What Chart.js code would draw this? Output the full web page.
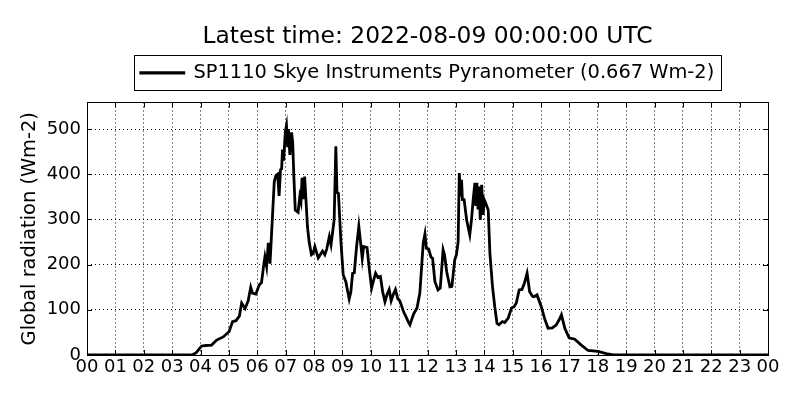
<!DOCTYPE html>
<html>
<head>
<meta charset="utf-8">
<script src="https://cdn.jsdelivr.net/npm/chart.js@4/dist/chart.umd.min.js"></script>
<style>
  html, body { margin: 0; padding: 0; background: #fff; }
  #wrap { width: 800px; height: 400px; }
</style>
</head>
<body>
<div id="wrap"><canvas id="c" width="800" height="400"></canvas></div>
<script>
const titleText = 'Latest time: 2022-08-09 00:00:00 UTC';
const seriesLabel = 'SP1110 Skye Instruments Pyranometer (0.667 Wm-2)';
const yAxisTitle = 'Global radiation (Wm-2)';
const yTickValues = [0, 100, 200, 300, 400, 500];
const xTickHours = [0,1,2,3,4,5,6,7,8,9,10,11,12,13,14,15,16,17,18,19,20,21,22,23,24];

const hours = [
  0, 3.7, 3.85, 4.04, 4.2, 4.39, 4.57, 4.8, 5.01, 5.13, 5.25, 5.37, 5.45, 5.57, 5.68, 5.77, 5.83, 5.95,
  6.07, 6.15, 6.23, 6.27, 6.33, 6.39, 6.45, 6.53, 6.60, 6.66, 6.72, 6.77, 6.82, 6.86, 6.89, 6.93, 6.99,
  7.03, 7.07, 7.10, 7.15, 7.21, 7.25, 7.29, 7.34, 7.44, 7.50, 7.54, 7.58, 7.62, 7.67, 7.72, 7.77, 7.83,
  7.91, 7.97, 8.03, 8.10, 8.15, 8.22, 8.30, 8.38, 8.45, 8.54, 8.60, 8.71, 8.77, 8.81, 8.86, 8.95,
  9.03, 9.12, 9.24, 9.30, 9.36, 9.42, 9.50, 9.58, 9.64, 9.70, 9.75, 9.87, 9.95,
  10.03, 10.10, 10.17, 10.25, 10.34, 10.42, 10.50, 10.58, 10.65, 10.72, 10.80, 10.87, 10.95,
  11.02, 11.08, 11.16, 11.24, 11.31, 11.38, 11.45, 11.52, 11.63, 11.73, 11.85, 11.91, 11.96,
  12.04, 12.12, 12.18, 12.26, 12.37, 12.45, 12.55, 12.60, 12.68, 12.79, 12.86, 12.96,
  13.02, 13.08, 13.12, 13.16, 13.20, 13.23, 13.29, 13.38, 13.49, 13.55, 13.61, 13.67, 13.70, 13.74,
  13.78, 13.82, 13.86, 13.91, 13.96, 14.00, 14.06, 14.14, 14.20, 14.29, 14.37, 14.45, 14.52, 14.64,
  14.72, 14.84, 14.96, 15.05, 15.13, 15.23, 15.33, 15.42, 15.51, 15.60, 15.70, 15.75, 15.86,
  16.01, 16.13, 16.25, 16.40, 16.54, 16.64, 16.72, 16.84, 16.99, 17.19, 17.42, 17.66, 18.01, 18.3, 18.55, 24
];
const radiation = [
  0, 0, 5, 20, 21, 22, 33, 40, 52, 74, 76, 86, 115, 103, 120, 150, 137, 135,
  155, 160, 200, 217, 196, 248, 202, 299, 384, 397, 400, 352, 410, 412, 455, 430, 495,
  508, 460, 500, 443, 493, 470, 395, 321, 316, 351, 340, 392, 345, 395, 340, 284, 250,
  222, 225, 240, 225, 215, 222, 230, 222, 235, 262, 244, 299, 462, 360, 358, 250,
  177, 163, 124, 140, 181, 182, 240, 285, 250, 214, 240, 238, 190,
  148, 165, 181, 172, 174, 140, 118, 135, 145, 120, 135, 145, 125,
  120, 110, 95, 85, 75, 67, 80, 92, 104, 137, 248, 268, 236,
  235, 217, 214, 163, 144, 148, 233, 222, 183, 151, 152, 211,
  222, 251, 403, 351, 388, 344, 344, 299, 266, 299, 344, 381, 330, 381,
  322, 373, 299, 377, 310, 344, 335, 321, 225, 152, 107, 70, 67, 74,
  72, 81, 104, 107, 115, 144, 145, 160, 181, 140, 130, 129, 133,
  107, 80, 59, 60, 67, 78, 89, 59, 38, 35, 22, 10, 8, 3, 0, 0
];

const points = hours.map((h, i) => ({ x: h, y: radiation[i] }));
const FONT = 'DejaVu Sans';

const framePlugin = {
  id: 'frame',
  beforeLayout(chart) {
    const lg = chart.legend;
    if (lg && !lg._extraGap) {
      lg._extraGap = true;
      const origFit = lg.fit;
      lg.fit = function () { origFit.call(this); this.height += 10; };
    }
  },
  afterDraw(chart) {
    const ctx = chart.ctx;
    const a = chart.chartArea;
    const xs = chart.scales.x, ys = chart.scales.y;
    ctx.save();
    ctx.strokeStyle = '#000';
    ctx.lineWidth = 1;
    ctx.setLineDash([]);
    ctx.strokeRect(Math.round(a.left) + 0.5, Math.round(a.top) + 0.5,
                   Math.round(a.right - a.left), Math.round(a.bottom - a.top));
    ctx.beginPath();
    yTickValues.forEach(v => {
      const y = Math.round(ys.getPixelForValue(v)) + 0.5;
      ctx.moveTo(a.left, y); ctx.lineTo(a.left + 5, y);
      ctx.moveTo(a.right, y); ctx.lineTo(a.right - 5, y);
    });
    xTickHours.forEach(v => {
      const x = Math.round(xs.getPixelForValue(v)) + 0.5;
      ctx.moveTo(x, a.bottom); ctx.lineTo(x, a.bottom - 5);
      ctx.moveTo(x, a.top); ctx.lineTo(x, a.top + 5);
    });
    ctx.stroke();
    const lg = chart.legend;
    if (lg && lg.legendHitBoxes && lg.legendHitBoxes.length) {
      const hb = lg.legendHitBoxes[0];
      ctx.strokeRect(Math.round(hb.left - 7) + 0.5, Math.round(hb.top - 8) + 0.5,
                     Math.round(hb.width + 14), Math.round(hb.height + 16));
    }
    ctx.restore();
  }
};

new Chart(document.getElementById('c'), {
  type: 'line',
  data: {
    datasets: [{
      label: seriesLabel,
      data: points,
      borderColor: '#000',
      backgroundColor: '#000',
      borderWidth: 2.8,
      pointRadius: 0,
      tension: 0,
      fill: false
    }]
  },
  options: {
    responsive: false,
    animation: false,
    devicePixelRatio: 1,
    layout: { padding: { left: 0, right: 32, top: 8, bottom: 0 } },
    plugins: {
      title: {
        display: true,
        fullSize: false,
        text: titleText,
        color: '#000',
        font: { family: FONT, size: 23.4, weight: 'normal' },
        padding: { top: 15, bottom: 0 }
      },
      legend: {
        display: true,
        fullSize: false,
        position: 'top',
        labels: {
          color: '#000',
          font: { family: FONT, size: 19.4 },
          boxWidth: 43,
          boxHeight: 0.5,
          padding: 12
        }
      },
      tooltip: { enabled: false }
    },
    scales: {
      x: {
        type: 'linear',
        min: 0,
        max: 24,
        afterBuildTicks: s => { s.ticks = xTickHours.map(v => ({ value: v })); },
        afterFit: s => { s.height = 45; },
        ticks: {
          autoSkip: false,
          maxRotation: 0,
          padding: 2,
          color: '#000',
          font: { family: FONT, size: 18 },
          callback: v => String(v % 24).padStart(2, '0')
        },
        grid: { color: '#000', lineWidth: 1, drawTicks: false },
        border: { display: false, dash: [1, 3] }
      },
      y: {
        min: 0,
        max: 559,
        afterBuildTicks: s => { s.ticks = yTickValues.map(v => ({ value: v })); },
        afterFit: s => { s.width = 87; },
        ticks: {
          padding: 6,
          color: '#000',
          font: { family: FONT, size: 18 },
          callback: v => String(v)
        },
        title: {
          display: true,
          text: yAxisTitle,
          color: '#000',
          font: { family: FONT, size: 19.4 },
          padding: { top: 18, bottom: 4 }
        },
        grid: { color: '#000', lineWidth: 1, drawTicks: false },
        border: { display: false, dash: [1, 3] }
      }
    }
  },
  plugins: [framePlugin]
});
</script>
</body>
</html>
